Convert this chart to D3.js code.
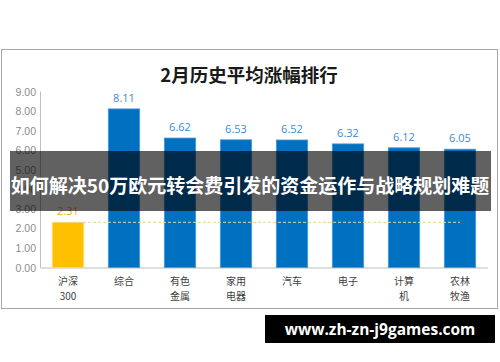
<!DOCTYPE html>
<html lang="zh">
  <head>
    <meta charset="UTF-8" />
    <title>2月历史平均涨幅排行</title>
    <script src="https://d3js.org/d3.v7.min.js"></script>
    <style>
      body {
        margin: 0;
        background: #fff;
      }
      svg {
        display: block;
      }
    </style>
  </head>
  <body>
    <svg id="chart" width="500" height="362"></svg>
    <script>
      const categories = [
        ["沪深", "300"],
        ["综合"],
        ["有色", "金属"],
        ["家用", "电器"],
        ["汽车"],
        ["电子"],
        ["计算", "机"],
        ["农林", "牧渔"],
      ];
      const values = [2.31, 8.11, 6.62, 6.53, 6.52, 6.32, 6.12, 6.05];
      const yTicks = [0, 1, 2, 3, 4, 5, 6, 7, 8, 9];
      const title = "2月历史平均涨幅排行";
      const banner = "如何解决50万欧元转会费引发的资金运作与战略规划难题";
      const site = "www.zh-zn-j9games.com";

      const cjk = "'Noto Sans CJK SC', 'Noto Sans', sans-serif";
      const svg = d3.select("#chart");

      // outer frame
      svg
        .append("rect")
        .attr("x", 1.5)
        .attr("y", 49.5)
        .attr("width", 496)
        .attr("height", 259)
        .attr("fill", "#fff")
        .attr("stroke", "#a6a6a6")
        .attr("stroke-width", 1);

      svg
        .append("text")
        .attr("x", 249)
        .attr("y", 82)
        .attr("text-anchor", "middle")
        .attr("font-family", cjk)
        .attr("font-weight", "bold")
        .attr("font-size", 18.5)
        .attr("fill", "#1a1a1a")
        .text(title);

      const margin = { left: 40, right: 12, top: 91.5 };
      const x = d3
        .scaleBand()
        .domain(d3.range(categories.length))
        .range([40, 488])
        .paddingInner(0.44)
        .paddingOuter(0.22);
      const y = d3.scaleLinear().domain([0, 9]).range([267.5, 91.5]);

      // y axis labels
      svg
        .append("g")
        .selectAll("text")
        .data(yTicks)
        .join("text")
        .attr("x", 36)
        .attr("y", (d) => y(d) + 4)
        .attr("text-anchor", "end")
        .attr("font-family", "'Liberation Sans', 'Open Sans', sans-serif")
        .attr("font-size", 10.5)
        .attr("fill", "#8c8c8c")
        .text((d) => d.toFixed(2));

      // axis lines
      svg
        .append("line")
        .attr("x1", 40.5)
        .attr("x2", 40.5)
        .attr("y1", y(9))
        .attr("y2", y(0))
        .attr("stroke", "#bfbfbf");
      svg
        .append("line")
        .attr("x1", 40)
        .attr("x2", 488)
        .attr("y1", y(0) + 0.5)
        .attr("y2", y(0) + 0.5)
        .attr("stroke", "#bfbfbf");

      // bars
      svg
        .append("g")
        .selectAll("rect")
        .data(values)
        .join("rect")
        .attr("x", (d, i) => x(i))
        .attr("width", x.bandwidth())
        .attr("y", (d) => y(d))
        .attr("height", (d) => y(0) - y(d))
        .attr("fill", (d, i) => (i === 0 ? "#ffc000" : "#0070c0"))
        .attr("stroke", (d, i) => (i === 0 ? "#ffd966" : "#4a97d6"))
        .attr("stroke-width", 0.8);

      // reference line at the index level
      svg
        .append("line")
        .attr("x1", x(0) + x.bandwidth() / 2)
        .attr("x2", x(categories.length - 1) + x.bandwidth() / 2)
        .attr("y1", y(values[0]))
        .attr("y2", y(values[0]))
        .attr("stroke", "#e3d49a")
        .attr("stroke-width", 1)
        .attr("stroke-dasharray", "3,2");

      // value labels
      svg
        .append("g")
        .selectAll("text")
        .data(values)
        .join("text")
        .attr("x", (d, i) => x(i) + x.bandwidth() / 2)
        .attr("y", (d) => y(d) - 7)
        .attr("text-anchor", "middle")
        .attr("font-family", "'Open Sans', 'Liberation Sans', sans-serif")
        .attr("font-size", 11)
        .attr("fill", (d, i) => (i === 0 ? "#f0b400" : "#3c8ad0"))
        .text((d) => d.toFixed(2));

      // category labels
      const cat = svg
        .append("g")
        .selectAll("text")
        .data(categories)
        .join("text")
        .attr("text-anchor", "middle")
        .attr("font-family", cjk)
        .attr("font-size", 10)
        .attr("fill", "#404040");
      cat
        .selectAll("tspan")
        .data((d, i) => d.map((t) => ({ t, i })))
        .join("tspan")
        .attr("x", (d) => x(d.i) + x.bandwidth() / 2)
        .attr("y", (d, j) => 284.5 + j * 15.5)
        .text((d) => d.t);

      // overlay banner
      svg
        .append("rect")
        .attr("x", 10)
        .attr("y", 151)
        .attr("width", 481)
        .attr("height", 60)
        .attr("fill", "rgba(0,0,0,0.62)");
      svg
        .append("text")
        .attr("x", 250)
        .attr("y", 193)
        .attr("text-anchor", "middle")
        .attr("font-family", cjk)
        .attr("font-weight", "bold")
        .attr("font-size", 19)
        .attr("fill", "#fff")
        .text(banner);

      // site badge
      svg
        .append("rect")
        .attr("x", 265)
        .attr("y", 315)
        .attr("width", 230)
        .attr("height", 28)
        .attr("fill", "#000");
      svg
        .append("text")
        .attr("x", 380)
        .attr("y", 335)
        .attr("text-anchor", "middle")
        .attr("font-family", "'Open Sans', 'DejaVu Sans', sans-serif")
        .attr("font-weight", "bold")
        .attr("font-size", 15.5)
        .attr("fill", "#fff")
        .text(site);
    </script>
  </body>
</html>
